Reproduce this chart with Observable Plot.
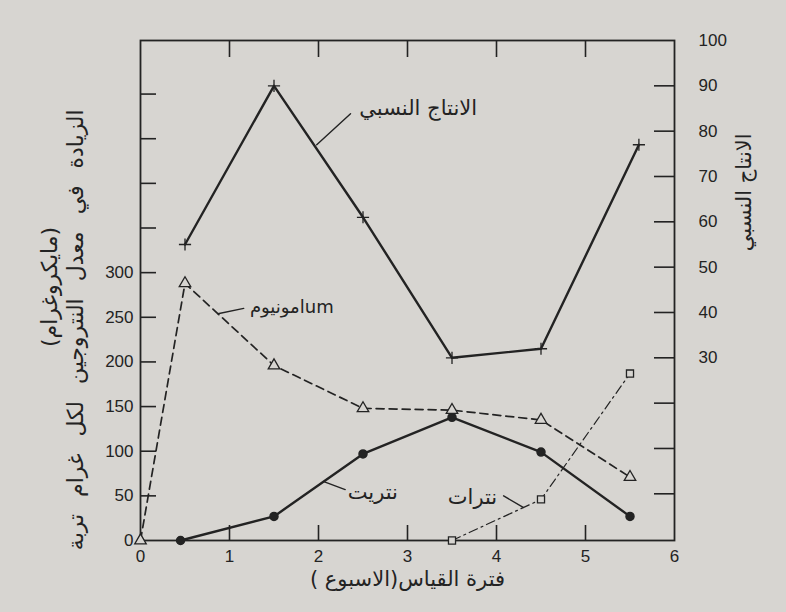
<!DOCTYPE html>
<html>
<head>
<meta charset="utf-8">
<script src="https://cdn.jsdelivr.net/npm/d3@7"></script>
<script src="https://cdn.jsdelivr.net/npm/@observablehq/plot@0.6"></script>
<style>
  html, body { margin: 0; padding: 0; background: #d7d5d1; }
  #chart { width: 786px; height: 612px; }
</style>
</head>
<body>
<div id="chart"></div>
<script>
// ---- data ----
const weeksProduction = [0.5, 1.5, 2.5, 3.5, 4.5, 5.6];
const relativeProduction = [55, 90, 61, 30, 32, 77];          // right axis
const weeksAmmonium = [0, 0.5, 1.5, 2.5, 3.5, 4.5, 5.5];
const ammonium = [0, 288, 196, 148, 146, 135, 71];             // left axis
const weeksNitrite = [0.45, 1.5, 2.5, 3.5, 4.5, 5.5];
const nitrite = [0, 27, 97, 138, 99, 27];
const weeksNitrate = [3.5, 4.5, 5.5];
const nitrate = [0, 46, 187];

const xTickLabels = [0, 1, 2, 3, 4, 5, 6];
const xInnerTicks = [1, 2, 3, 4, 5];
const leftTickLabels = [0, 50, 100, 150, 200, 250, 300];
const leftTicks = [50, 100, 150, 200, 250, 300, 350, 400, 450, 500];
const rightTickLabels = [30, 40, 50, 60, 70, 80, 90, 100];
const rightTicks = [0, 10, 20, 30, 40, 50, 60, 70, 80, 90];

const titleLeft1 = "الزيادة في معدل النتروجين لكل غرام تربة";
const titleLeft2 = "(مايكروغرام)";
const titleRight = "الانتاج النسبي";
const titleX = "فترة القياس(الاسبوع )";
const labelProduction = "الانتاج النسبي";
const labelAmmonium = "امونيومum";
const labelNitrite = "نتريت";
const labelNitrate = "نترات";

// ---- scales ----
const leftMax = 560;
const rightMin = -10.3, rightMax = 100;
const toLeft = v => (v - rightMin) * leftMax / (rightMax - rightMin);

const ink = "#232323";
const bg = "#d7d5d1";
const arabic = "DejaVu Sans, sans-serif";

const production = weeksProduction.map((x, i) => ({x, v: relativeProduction[i]}));
const amm = weeksAmmonium.map((x, i) => ({x, v: ammonium[i]}));
const nitri = weeksNitrite.map((x, i) => ({x, v: nitrite[i]}));
const nitra = weeksNitrate.map((x, i) => ({x, v: nitrate[i]}));

const W = 786, H = 612, mL = 140, mR = 112, mT = 40, mB = 72;
const fw = W - mL - mR, fh = H - mT - mB;

const arrows = [
  {x1: 2.36, y1: 478, x2: 1.98, y2: toLeft(77), bend: 25},
  {x1: 1.16, y1: 260, x2: 0.87, y2: 254, bend: 20},
  {x1: 2.30, y1: 57, x2: 2.06, y2: 66, bend: 15},
  {x1: 4.08, y1: 50, x2: 4.30, y2: 37, bend: -15}
];
const labels = [
  {x: 3.12, y: 484, t: labelProduction, s: 21},
  {x: 1.70, y: 261, t: labelAmmonium, s: 18},
  {x: 2.61, y: 54, t: labelNitrite, s: 21},
  {x: 3.73, y: 48, t: labelNitrate, s: 21}
];

const chart = Plot.plot({
  width: W, height: H,
  marginLeft: mL, marginRight: mR, marginTop: mT, marginBottom: mB,
  x: {domain: [0, 6]},
  y: {domain: [0, leftMax]},
  style: {background: "transparent", fontFamily: "Liberation Sans, Arial, sans-serif", fontSize: "16px", color: ink},
  marks: [
    Plot.frame({stroke: ink, strokeWidth: 1.8}),
    // inward tick marks
    Plot.tickY(leftTicks, {y: d => d, insetRight: fw - 16, stroke: ink, strokeWidth: 1.6}),
    Plot.tickY(rightTicks, {y: d => toLeft(d), insetLeft: fw - 20, stroke: ink, strokeWidth: 1.6}),
    Plot.tickX(xInnerTicks, {x: d => d, insetTop: fh - 15, stroke: ink, strokeWidth: 1.6}),
    Plot.tickX(xInnerTicks, {x: d => d, insetBottom: fh - 17, stroke: ink, strokeWidth: 1.6}),
    // tick labels
    Plot.axisY(leftTickLabels, {anchor: "left", tickSize: 0, tickPadding: 7, label: null, fontSize: 17}),
    Plot.text(rightTickLabels, {y: d => toLeft(d), frameAnchor: "right", dx: 24, textAnchor: "start", text: d => String(d), fontSize: 17}),
    Plot.axisX(xTickLabels, {anchor: "bottom", tickSize: 0, tickPadding: 9, label: null, fontSize: 17}),
    // series
    Plot.line(production, {x: "x", y: d => toLeft(d.v), stroke: ink, strokeWidth: 2.4}),
    Plot.dot(production, {x: "x", y: d => toLeft(d.v), symbol: "plus", r: 4, stroke: ink, strokeWidth: 1.3}),
    Plot.line(amm, {x: "x", y: "v", stroke: ink, strokeWidth: 1.7, strokeDasharray: "8,5"}),
    Plot.line(nitri, {x: "x", y: "v", stroke: ink, strokeWidth: 2.4}),
    Plot.dot(nitri, {x: "x", y: "v", r: 4, fill: ink, stroke: ink}),
    Plot.line(nitra, {x: "x", y: "v", stroke: ink, strokeWidth: 1.2, strokeDasharray: "9,4,2,4"}),
    Plot.dot(amm, {x: "x", y: "v", symbol: "triangle2", r: 5.5, fill: bg, stroke: ink, strokeWidth: 1.3}),
    Plot.dot(nitra, {x: "x", y: "v", symbol: "square2", r: 4.5, fill: bg, stroke: ink, strokeWidth: 1.3}),
    // annotations
    Plot.arrow(arrows, {x1: "x1", y1: "y1", x2: "x2", y2: "y2", bend: "bend", headLength: 7, stroke: ink, strokeWidth: 1.4}),
    Plot.text(labels, {x: "x", y: "y", text: "t", fontSize: "s", fontFamily: arabic, fill: ink}),
    // titles
    Plot.text([titleLeft1], {x: () => -0.72, y: () => 236, rotate: -90, fontFamily: arabic, fontSize: 22, fill: ink}),
    Plot.text([titleLeft2], {x: () => -1.02, y: () => 284, rotate: -90, fontFamily: arabic, fontSize: 22, fill: ink}),
    Plot.text([titleRight], {x: () => 6.78, y: () => 390, rotate: -90, fontFamily: arabic, fontSize: 21, fill: ink}),
    Plot.text([titleX], {x: () => 3, y: () => -43, fontFamily: arabic, fontSize: 21, fill: ink})
  ]
});
d3.select(chart).selectAll("text").filter(function () { return this.textContent === titleLeft1; })
  .style("word-spacing", "10px");
document.getElementById("chart").appendChild(chart);
</script>
</body>
</html>
